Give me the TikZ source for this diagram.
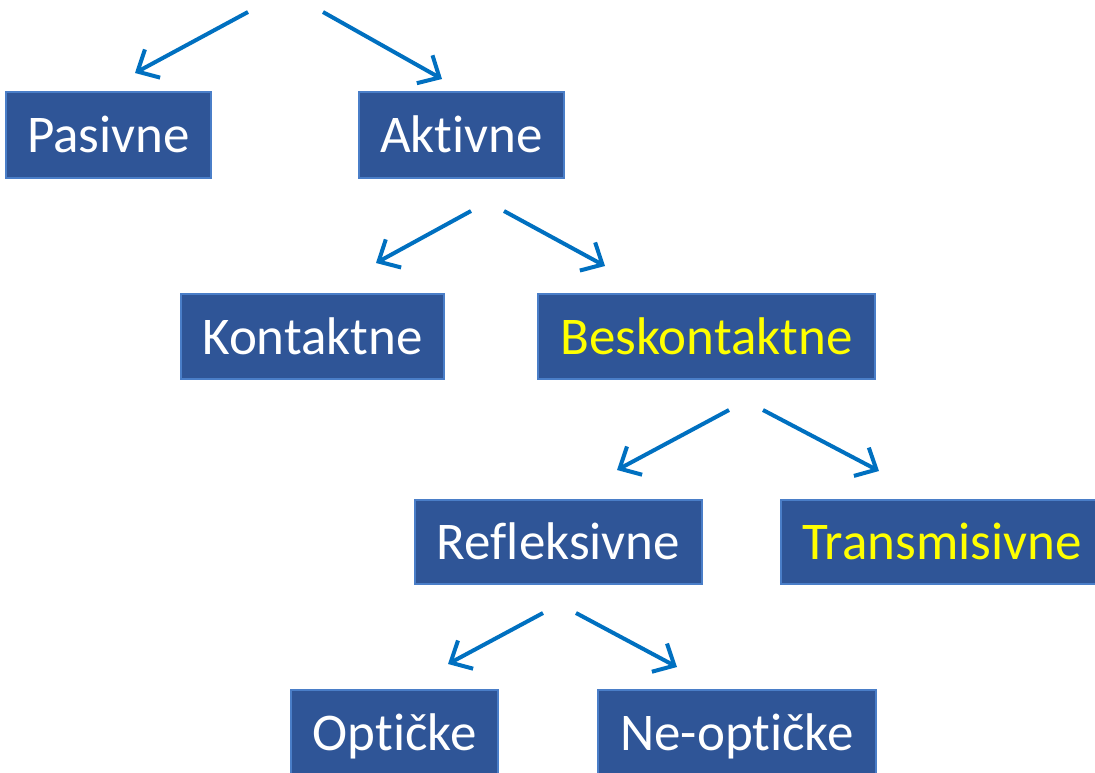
\documentclass[tikz,border=0pt]{standalone}
\usepackage{fontspec}
\setmainfont[Ligatures={NoCommon,NoContextual}]{Carlito}
\usetikzlibrary{arrows.meta}
\definecolor{boxfill}{HTML}{2F5597}
\definecolor{boxline}{HTML}{4A7EC8}
\definecolor{arrowblue}{HTML}{0070C0}
\definecolor{ylw}{HTML}{FFFF00}
\tikzset{
  catbox/.style={fill=boxfill, draw=boxline, line width=1.2pt, inner sep=0pt,
    text=white, font=\fontsize{53}{60}\selectfont, text height=35pt, text depth=0pt},
  hl/.style={text=ylw},
  branch/.style={draw=arrowblue, line width=4pt, -{Straight Barb[length=17pt,width=32pt,line width=4pt]}}
}
\begin{document}
\begin{tikzpicture}[x=1pt,y=-1pt]
\useasboundingbox (0,0) rectangle (1095,772);
\clip (0,0) rectangle (1095,772);
\node[catbox, minimum width=205pt, minimum height=86pt] (pas) at (108.5,135) {Pasivne};
\node[catbox, minimum width=205pt, minimum height=86pt] (akt) at (461.5,135) {Aktivne};
\node[catbox, minimum width=263pt, minimum height=85pt] (kon) at (312.5,336.5) {Kontaktne};
\node[catbox, hl, minimum width=337pt, minimum height=85pt] (bes) at (706.5,336.5) {Beskontaktne};
\node[catbox, minimum width=287pt, minimum height=84pt] (ref) at (558.5,542) {Refleksivne};
\node[catbox, hl, minimum width=322pt, minimum height=84pt] (tra) at (942,542) {Transmisivne};
\node[catbox, minimum width=207pt, minimum height=85pt] (opt) at (394.5,732.5) {Optičke};
\node[catbox, minimum width=278pt, minimum height=85pt] (nop) at (737,732.5) {Ne-optičke};
% arrow endpoints
\coordinate (r1) at (248,12);
\coordinate (r2) at (323,12);
\coordinate (p1) at (135,73);
\coordinate (a1) at (442,79);
\coordinate (ka) at (471,211);
\coordinate (kb) at (504,211);
\coordinate (k1) at (376,263);
\coordinate (b1) at (605,266);
\coordinate (ba) at (729,410);
\coordinate (bb) at (763,410);
\coordinate (rf1) at (617,470);
\coordinate (t1) at (879,471);
\coordinate (ra) at (543,613);
\coordinate (rb) at (576,613);
\coordinate (o1) at (448,664);
\coordinate (n1) at (677,667);
\draw[branch] (r1) -- (p1);
\draw[branch] (r2) -- (a1);
\draw[branch] (ka) -- (k1);
\draw[branch] (kb) -- (b1);
\draw[branch] (ba) -- (rf1);
\draw[branch] (bb) -- (t1);
\draw[branch] (ra) -- (o1);
\draw[branch] (rb) -- (n1);
\end{tikzpicture}
\end{document}
